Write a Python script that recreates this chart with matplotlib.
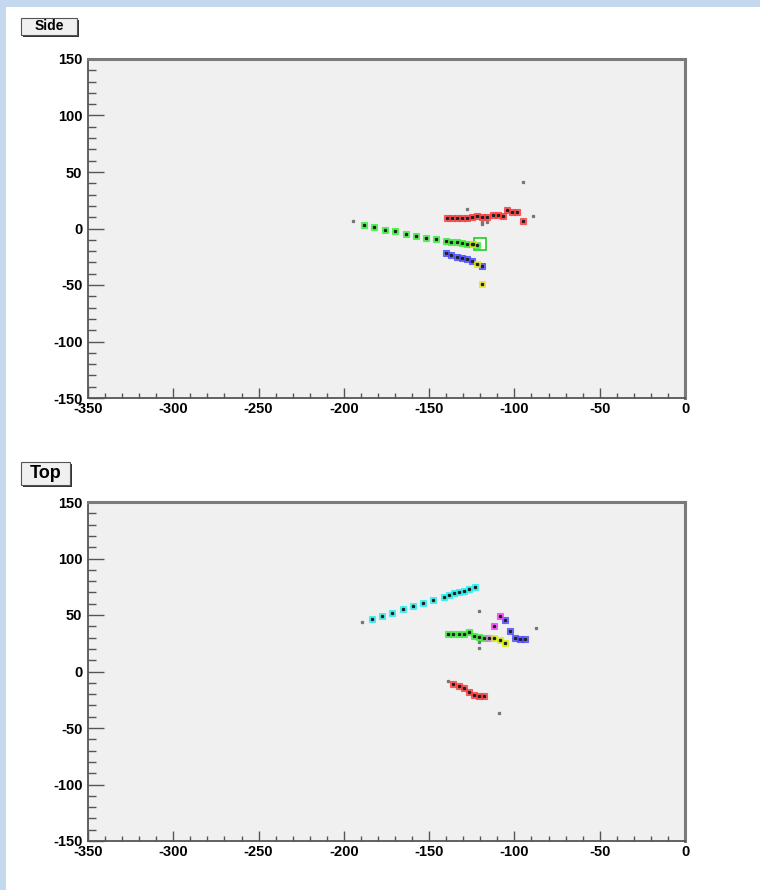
import matplotlib.pyplot as plt
from matplotlib.patches import Rectangle

plt.rcParams["font.family"] = ["Liberation Sans", "DejaVu Sans"]
plt.rcParams["font.weight"] = "bold"
plt.rcParams["axes.unicode_minus"] = False

# ---- "Side" view hits (x, y) ----
side_green_x = [-188.0, -182.1, -175.9, -169.8, -163.7, -157.9, -151.8, -146.0,
                -139.9, -137.0, -133.8, -130.9, -128.0, -124.9, -122.0]
side_green_y = [3.1, 1.1, -1.3, -2.5, -4.6, -6.4, -8.1, -9.6,
                -11.1, -11.7, -12.2, -13.1, -13.7, -14.0, -14.6]
side_red_x = [-139.7, -136.8, -133.8, -130.9, -128.0, -125.0, -122.1, -119.2,
              -116.3, -112.4, -109.5, -106.9, -104.2, -101.2, -98.3, -95.1]
side_red_y = [9.0, 9.0, 9.3, 9.6, 9.6, 10.4, 11.3, 10.4,
              10.4, 12.2, 11.9, 11.3, 16.4, 14.3, 14.3, 6.9]
side_blue_x = [-140.1, -137.0, -133.8, -130.7, -127.8, -124.9, -118.8]
side_blue_y = [-21.9, -23.5, -25.0, -26.4, -27.3, -28.8, -32.9]
side_yellow_x = [-124.0, -122.0, -119.0]
side_yellow_y = [-13.7, -31.7, -49.4]
side_cluster_x = [-120.0]
side_cluster_y = [-14.0]
side_gray_x = [-194.6, -95.0, -89.3, -128.0, -119.0, -119.0, -116.0]
side_gray_y = [6.6, 41.4, 11.3, 17.3, 6.0, 4.0, 6.0]

# ---- "Top" view hits (x, z) ----
top_cyan_x = [-183.5, -177.5, -171.6, -165.5, -159.5, -153.4, -147.6,
              -141.5, -138.5, -135.6, -132.7, -129.7, -126.6, -123.3]
top_cyan_y = [46.2, 49.1, 51.8, 55.0, 58.0, 60.6, 63.3,
              66.2, 68.0, 69.2, 70.1, 71.5, 73.0, 75.0]
top_green_x = [-138.8, -135.8, -132.5, -129.6, -126.5, -123.5, -120.6, -117.7]
top_green_y = [33.5, 33.5, 32.9, 32.9, 34.7, 31.4, 30.8, 29.9]
top_pink_x = [-114.7]
top_pink_y = [29.6]
top_yellow_x = [-111.8, -108.5, -105.3]
top_yellow_y = [29.9, 27.6, 25.0]
top_blue_x = [-105.5, -102.6, -99.7, -96.6, -93.6]
top_blue_y = [45.6, 35.8, 29.9, 28.8, 28.8]
top_magenta_x = [-108.6, -111.8]
top_magenta_y = [49.1, 40.5]
top_red_x = [-135.8, -132.5, -129.4, -126.5, -123.5, -120.6, -117.7]
top_red_y = [-11.1, -12.6, -14.3, -17.9, -20.5, -21.9, -21.9]
top_gray_x = [-189.4, -120.6, -120.6, -120.6, -87.5, -138.8, -108.9]
top_gray_y = [43.5, 53.5, 25.8, 21.1, 38.5, -8.4, -37.0]

side_series = [
    (side_green_x, side_green_y, "#33ee33"),
    (side_red_x, side_red_y, "#ff3838"),
    (side_blue_x, side_blue_y, "#4848ff"),
    (side_yellow_x, side_yellow_y, "#e8e800"),
]
top_series = [
    (top_cyan_x, top_cyan_y, "#22eeee"),
    (top_green_x, top_green_y, "#33ee33"),
    (top_pink_x, top_pink_y, "#d080d0"),
    (top_yellow_x, top_yellow_y, "#d8f000"),
    (top_blue_x, top_blue_y, "#4848ff"),
    (top_magenta_x, top_magenta_y, "#ff30ff"),
    (top_red_x, top_red_y, "#ff3838"),
]

fig = plt.figure(figsize=(7.6, 8.9), dpi=100)
fig.patch.set_facecolor("white")

# canvas edge strips
fig.patches.append(Rectangle((0, 1 - 7 / 890), 1, 7 / 890, transform=fig.transFigure,
                             facecolor="#c4d8ee", edgecolor="none", zorder=-5))
fig.patches.append(Rectangle((0, 0), 6 / 760, 1, transform=fig.transFigure,
                             facecolor="#c4d8ee", edgecolor="none", zorder=-5))


def style_axes(ax):
    ax.set_xlim(-350, 0)
    ax.set_ylim(-150, 150)
    ax.set_facecolor("#f0f0f0")
    ax.set_xticks(range(-350, 1, 50))
    ax.set_xticks(range(-350, 1, 10), minor=True)
    ax.set_yticks(range(-150, 151, 50))
    ax.set_yticks(range(-150, 151, 10), minor=True)
    ax.tick_params(which="both", direction="in", color="#555555", width=1,
                   labelsize=10.5, top=False, right=False)
    ax.tick_params(axis="x", which="major", length=7.2, pad=3)
    ax.tick_params(axis="x", which="minor", length=3.6)
    ax.tick_params(axis="y", which="major", length=11.5, pad=4)
    ax.tick_params(axis="y", which="minor", length=5.8)
    for lbl in ax.get_xticklabels() + ax.get_yticklabels():
        lbl.set_fontweight("bold")
    for side in ("left", "bottom"):
        ax.spines[side].set_color("#555555")
        ax.spines[side].set_linewidth(1.3)
    for side in ("top", "right"):
        ax.spines[side].set_color("#7a7a7a")
        ax.spines[side].set_linewidth(2.2)


def draw_hits(ax, series, gray_x, gray_y):
    for xs, ys, col in series:
        ax.plot(xs, ys, ls="none", marker="s", markersize=4.3,
                markerfacecolor=col, markeredgecolor=col, markeredgewidth=0.8,
                alpha=0.75, zorder=3)
        ax.plot(xs, ys, ls="none", marker="s", markersize=1.4,
                color="#222222", zorder=4)
    ax.plot(gray_x, gray_y, ls="none", marker="s", markersize=1.4,
            color="#777777", zorder=4)


def label_box(x0, y0, w, h, text, size):
    # shadowed title box, positions in pixels from the top-left
    W, H = 760, 890
    fig.patches.append(Rectangle(((x0 + 2) / W, 1 - (y0 + h + 2) / H), w / W, h / H,
                                 transform=fig.transFigure, facecolor="#333333",
                                 edgecolor="none"))
    fig.patches.append(Rectangle((x0 / W, 1 - (y0 + h) / H), w / W, h / H,
                                 transform=fig.transFigure, facecolor="#f0f0f0",
                                 edgecolor="#555555", linewidth=0.8))
    fig.text((x0 + w / 2) / W, 1 - (y0 + h / 2) / H, text, ha="center",
             va="center", fontsize=size, fontweight="bold", color="black")


ax1 = fig.add_axes([88 / 760, 1 - 398 / 890, 597 / 760, 339 / 890])
style_axes(ax1)
draw_hits(ax1, side_series, side_gray_x, side_gray_y)
ax1.plot(side_cluster_x, side_cluster_y, ls="none", marker="s", markersize=8,
         markerfacecolor="white", markeredgecolor="#22cc22", markeredgewidth=1.2,
         zorder=2)

ax2 = fig.add_axes([88 / 760, 1 - 841 / 890, 597 / 760, 339 / 890])
style_axes(ax2)
draw_hits(ax2, top_series, top_gray_x, top_gray_y)

label_box(21, 18, 56, 17, "Side", 10)
label_box(21, 462, 49, 23, "Top", 13)

fig.savefig("out.png", dpi=100)
